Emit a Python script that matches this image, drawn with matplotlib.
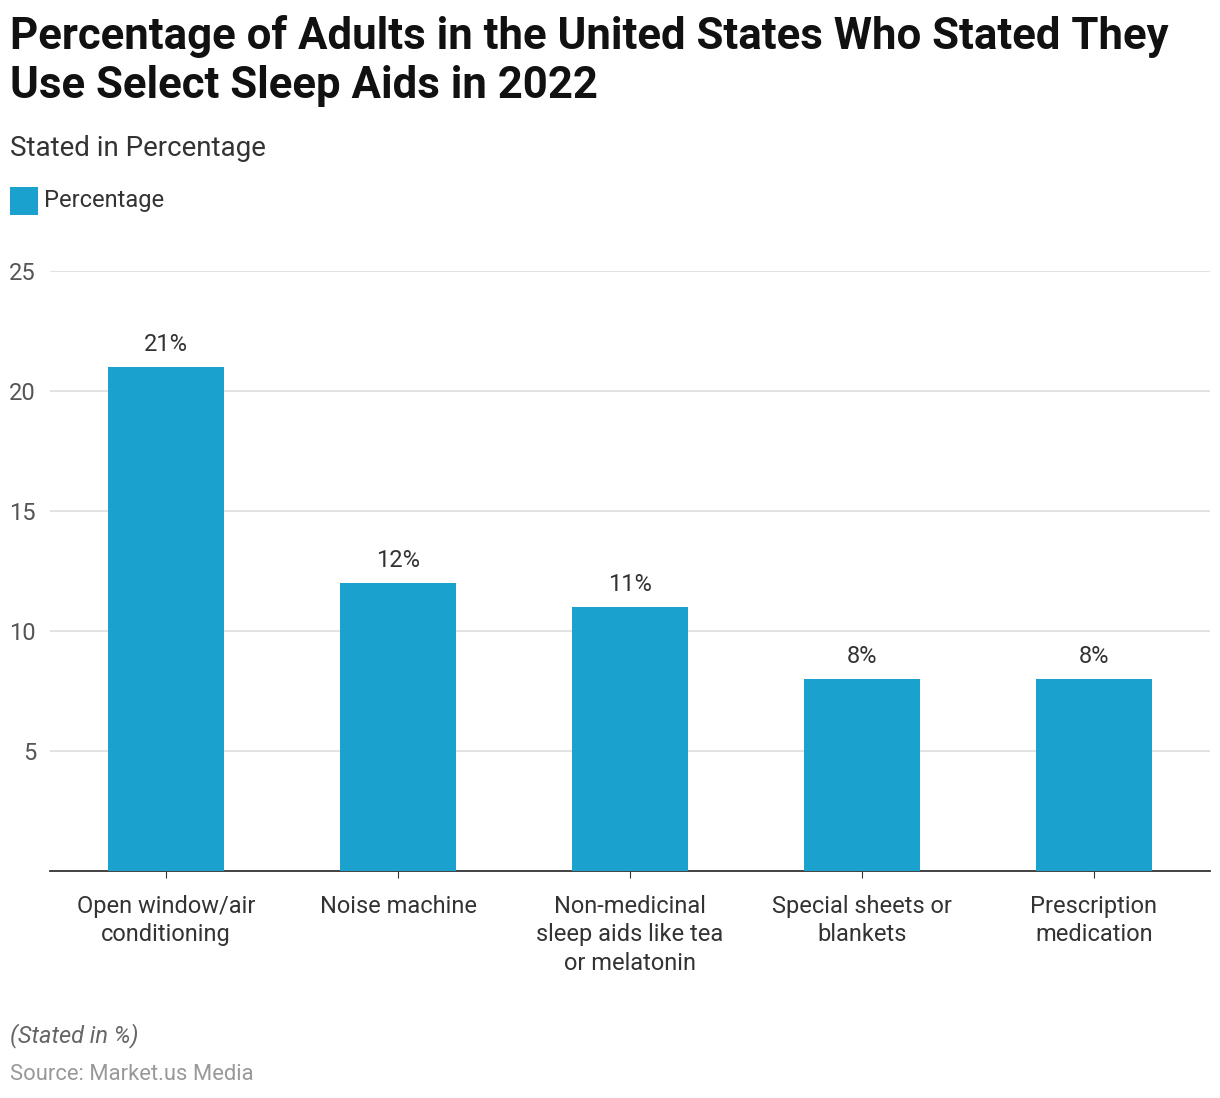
import matplotlib
matplotlib.use("Agg")
import matplotlib.pyplot as plt
from matplotlib.patches import Rectangle

plt.rcParams['font.family'] = ['Roboto', 'DejaVu Sans']

categories = ["Open window/air\nconditioning", "Noise machine",
              "Non-medicinal\nsleep aids like tea\nor melatonin",
              "Special sheets or\nblankets", "Prescription\nmedication"]
values = [21, 12, 11, 8, 8]
yticks = [5, 10, 15, 20, 25]

bar_color = "#1aa1cd"

fig = plt.figure(figsize=(12.2, 10.98), dpi=100)
W, H = 1220, 1098
ax = fig.add_axes([50 / W, 1 - 871 / H, (1210 - 50) / W, (871 - 271) / H])

x = list(range(len(categories)))
ax.bar(x, values, width=0.5, color=bar_color, zorder=3)
for xi, v in zip(x, values):
    ax.text(xi, v + 0.45, f"{v}%", ha="center", va="bottom", fontsize=17, color="#333333")

ax.set_xlim(-0.5, len(categories) - 0.5)
ax.set_ylim(0, 25)
ax.set_yticks(yticks)
ax.set_yticklabels([str(t) for t in yticks], fontsize=17, color="#555555")
ax.set_xticks(x)
ax.set_xticklabels(categories, fontsize=17, color="#333333", linespacing=1.32)
ax.tick_params(axis="y", length=0, pad=10)
ax.tick_params(axis="x", length=5, color="#333333", pad=12)
ax.grid(axis="y", color="#dddddd", linewidth=1.2, zorder=0)
for s in ["top", "right", "left"]:
    ax.spines[s].set_visible(False)
ax.spines["bottom"].set_color("#333333")
ax.spines["bottom"].set_linewidth(1.3)

fig.text(10 / W, 1 - 15 / H, "Percentage of Adults in the United States Who Stated They\nUse Select Sleep Aids in 2022",
         fontsize=31.5, fontweight="bold", va="top", ha="left", color="#111111", linespacing=1.22)
fig.text(10 / W, 1 - 148 / H, "Stated in Percentage", fontsize=20, va="center", ha="left", color="#333333")
fig.patches.append(Rectangle((10 / W, 1 - 215 / H), 28 / W, 28 / H, transform=fig.transFigure,
                             facecolor=bar_color, edgecolor="none"))
fig.text(44 / W, 1 - 201 / H, "Percentage", fontsize=17, va="center", ha="left", color="#333333")
fig.text(10 / W, 1 - 1036 / H, "(Stated in %)", fontsize=17, style="italic", va="center", ha="left", color="#666666")
fig.text(10 / W, 1 - 1074 / H, "Source: Market.us Media", fontsize=15.8, va="center", ha="left", color="#999999")

fig.savefig("out.png", dpi=100, facecolor="white")
